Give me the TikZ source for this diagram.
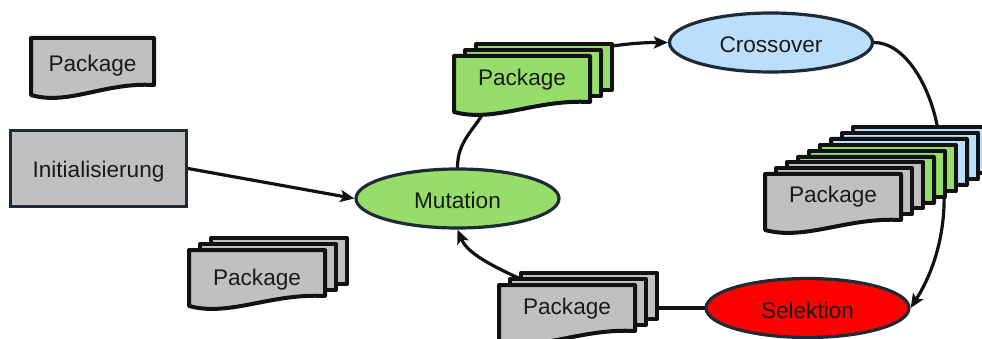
\documentclass[tikz,border=0pt]{standalone}
\usepackage{fontspec}
\setmainfont{Liberation Sans}
\usetikzlibrary{shapes.geometric,arrows.meta,backgrounds}

\definecolor{pkggray}{HTML}{C0C0C0}
\definecolor{pkggreen}{HTML}{96DD6A}
\definecolor{pkgblue}{HTML}{BBDEFB}
\definecolor{selred}{HTML}{FF0000}
\definecolor{rim}{HTML}{1E2B36}
\definecolor{ink}{HTML}{1A1A1A}

\tikzset{
  pageline/.style={draw=black!93, line width=4pt, line join=round},
  lbl/.style={font=\fontsize{22.6}{27}\selectfont, text=ink, inner sep=0pt},
  stage/.style={ellipse, draw=rim, line width=3.2pt, minimum width=203pt,
    minimum height=59pt, inner sep=0pt, lbl, text height=20pt, text depth=0pt},
  initbox/.style={rectangle, draw=rim, line width=3pt, fill=pkggray,
    minimum width=176pt, minimum height=76pt, inner sep=0pt, lbl,
    text height=23pt, text depth=4.8pt},
  flow/.style={draw=black!93, line width=3.2pt, line cap=round},
  flowarrow/.style={flow, -{Stealth[length=14pt,width=12pt,inset=3pt]}},
}

% page with a wavy lower edge: top-left (#1,#2), width #3, height #4, fill #5
\newcommand{\wavypage}[5]{%
  \filldraw[pageline, fill=#5] ({#1},{#2}) -- ++({#3},0) -- ++(0,{#4-10})
    .. controls +({-0.4*#3},-3) and +({0.3*#3},11) .. ++({-#3},10) -- cycle;}
% plain page behind the front one
\newcommand{\flatpage}[5]{%
  \filldraw[pageline, fill=#5] ({#1},{#2}) rectangle ++({#3},{#4});}
% three stacked pages, front page top-left at (#1,#2)
\newcommand{\pagestack}[3]{%
  \flatpage{#1+22}{#2-12}{136}{46}{#3}
  \flatpage{#1+11}{#2-6}{136}{46}{#3}
  \wavypage{#1}{#2}{136}{56}{#3}}

\begin{document}
\begin{tikzpicture}[x=1pt, y=-1pt]
  \useasboundingbox (0,0) rectangle (982,339);

  % package shapes
  \wavypage{31}{38}{123}{57}{pkggray}
  \pagestack{454}{56}{pkggreen}
  \pagestack{189}{250}{pkggray}
  \pagestack{499}{285}{pkggray}
  \pagestack{831}{139}{pkgblue}
  \pagestack{798}{157}{pkggreen}
  \pagestack{765}{174}{pkggray}

  % labels of the packages
  \node[lbl] (pkgA) at (92.5,66) {Package};
  \node[lbl] (pkgG) at (522,80) {Package};
  \node[lbl] (pkgL) at (257,279.5) {Package};
  \node[lbl] (pkgM) at (567,309) {Package};
  \node[lbl] (pkgS) at (833,197) {Package};

  % process steps
  \node[initbox] (init) at (98.5,168.5) {Initialisierung};
  \node[stage, fill=pkggreen] (mut) at (457.5,198.5) {Mutation};
  \node[stage, fill=pkgblue] (cross) at (771,42.5) {Crossover};
  \node[stage, fill=selred] (sel) at (807.5,308) {Selektion};

  % attachment points on the package stacks
  \coordinate (gB) at (484,112);
  \coordinate (gR) at (606,47);
  \coordinate (sT) at (938,130);
  \coordinate (sB) at (944,190);
  \coordinate (mR) at (650,308);
  \coordinate (mT) at (525,281);

  \begin{pgfonlayer}{background}
    \draw[flowarrow] (init.east) -- (mut.west);
    \draw[flow] (mut.north) .. controls +(0,-25) and +(-12,20) .. (gB);
    \draw[flowarrow] (gR) .. controls +(25,-4) and +(-20,0) .. (cross.west);
    \draw[flow] (cross.east) .. controls +(30,0) and +(-8,-46) .. (sT);
    \draw[flowarrow] (sB) .. controls +(2,55) and +(16,-25) .. (sel.east);
    \draw[flow] (sel.west) -- (mR);
    \draw[flowarrow] (mT) .. controls +(-33,-15) and +(10,24) .. (mut.south);
  \end{pgfonlayer}
\end{tikzpicture}
\end{document}
